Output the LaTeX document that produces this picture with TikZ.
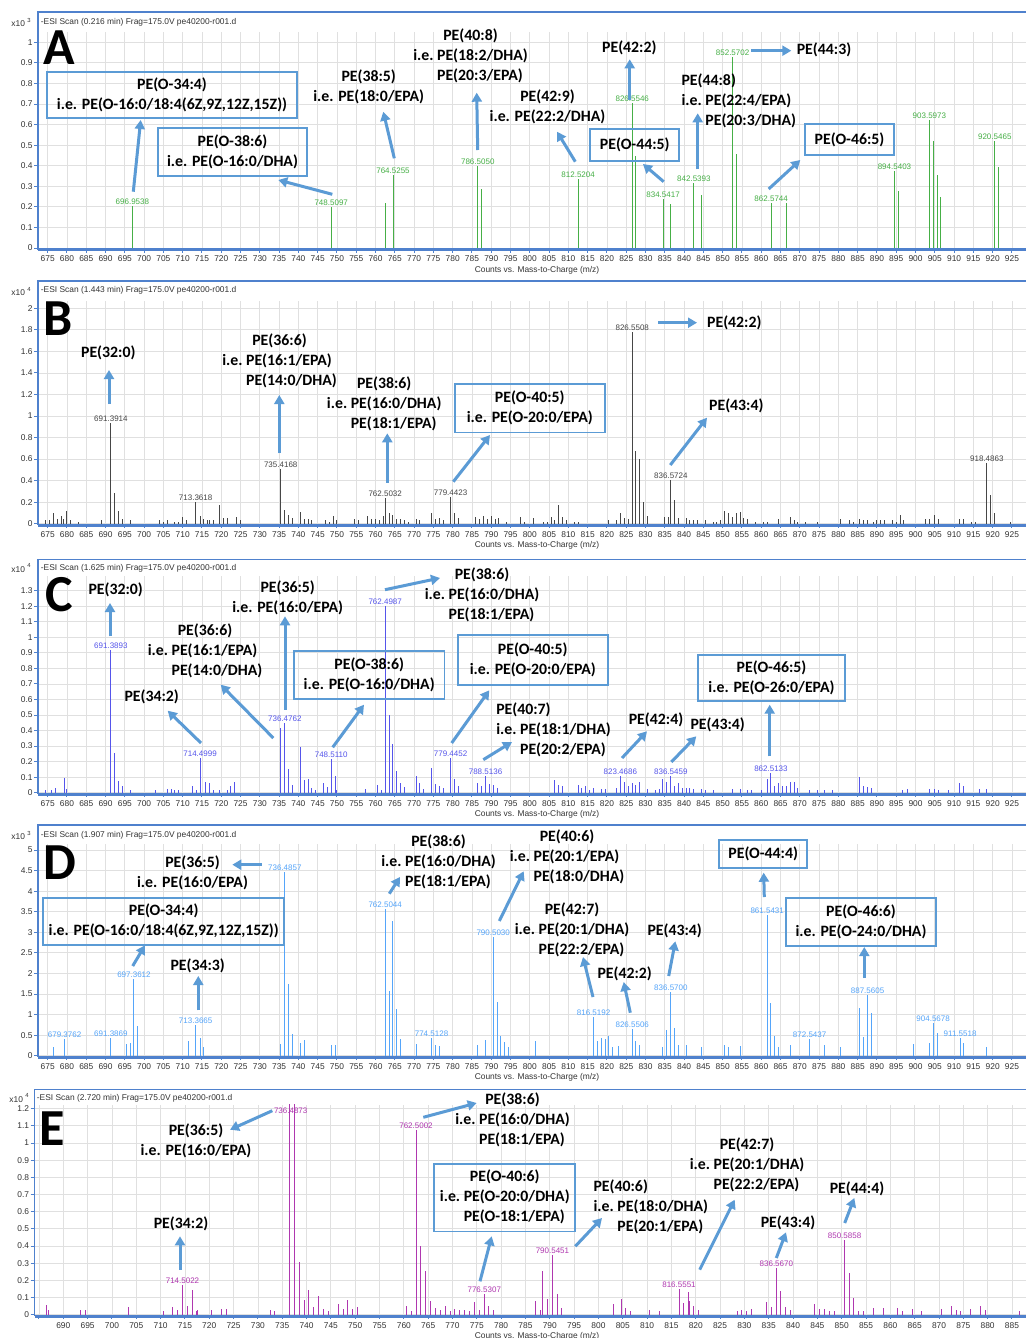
\documentclass[tikz,border=0pt]{standalone}
\usepackage{fontspec}
\setmainfont{Carlito}
\newfontfamily\tickfont{Liberation Sans}
\usetikzlibrary{arrows.meta}
\definecolor{callblue}{RGB}{91,155,213}
\definecolor{framebl}{RGB}{79,129,205}
\definecolor{gridgray}{RGB}{224,224,224}
\definecolor{peakA}{RGB}{70,175,70}
\definecolor{peakB}{RGB}{70,70,70}
\definecolor{peakC}{RGB}{85,85,235}
\definecolor{peakD}{RGB}{85,165,250}
\definecolor{peakE}{RGB}{175,55,175}

% three-line species labels: name, then "i.e." options
\newcommand{\pethree}[3]{\begin{tabular}{@{}r@{\ }l@{}}\multicolumn{2}{@{}c@{}}{#1}\\ i.e. & #2\\ & #3\end{tabular}}
\newcommand{\pethreel}[3]{\begin{tabular}{@{}r@{\ }l@{}}\multicolumn{2}{@{}l@{}}{#1}\\ i.e. & #2\\ & #3\end{tabular}}

\tikzset{
  gridline/.style={draw=gridgray, line width=0.4pt},
  frameline/.style={draw=framebl, line width=0.8pt},
  axisline/.style={draw=framebl, line width=1.3pt},
  tick/.style={font=\tickfont\fontsize{4.2}{5}\selectfont, inner sep=0pt, text=black!80},
  peakline/.style={line width=0.5pt},
  peaklab/.style={font=\tickfont\fontsize{4}{5}\selectfont, inner sep=0pt, anchor=south},
  pelabel/.style={font=\fontsize{7.9}{10}\selectfont\bfseries, inner sep=0pt, align=center},
  pebox/.style={pelabel, draw=callblue, line width=0.9pt},
  callout/.style={draw=callblue, line width=1.5pt, -{Triangle[length=4.5pt,width=5pt]}},
  panelletter/.style={font=\fontsize{26}{26}\selectfont\bfseries, inner sep=0pt},
}

% axes of one spectrum; uses \xa \ma \sx \yb \sy
\newcommand{\drawaxes}[7]{%
  \foreach \m in {#5} \draw[gridline] ({\xa+(\m-\ma)*\sx},\yb) -- ({\xa+(\m-\ma)*\sx},#4);
  \foreach \v [count=\i] in {#7} {
    \draw[gridline] (#2,{\yb-\v*\sy}) -- (1026,{\yb-\v*\sy});
    \draw[frameline,line width=0.5pt] ({#2-4},{\yb-\v*\sy}) -- (#2,{\yb-\v*\sy});
    \node[tick,anchor=east] (#1y\i) at ({#2-5},{\yb-\v*\sy}) {\v};
  }
  \foreach \m in {#5} \draw[frameline,line width=0.5pt] ({\xa+(\m-\ma)*\sx},{\yb+1.5}) -- ++(0,3);
  \foreach \m in {#6} \node[tick] (#1x\m) at ({\xa+(\m-\ma)*\sx},{\yb+11}) {\m};
  \draw[frameline] (1026,#3) -- (#2,#3) -- (#2,{\yb+1.5});
  \draw[axisline] (#2,{\yb+1.5}) -- (1026,{\yb+1.5});
}
\newcommand{\peaklist}[2]{\foreach \m/\h in {#2} \draw[peakline,#1] ({\xa+(\m-\ma)*\sx},\yb) -- ++(0,{-\h*\sy});}
\newcommand{\labpeaks}[3]{\foreach \m/\h [count=\i] in {#3} {
    \draw[peakline,#2] ({\xa+(\m-\ma)*\sx},\yb) -- ++(0,{-\h*\sy});
    \node[peaklab,text=#2] (#1\i) at ({\xa+(\m-\ma)*\sx},{\yb-\h*\sy-1}) {\m};}}

\begin{document}
\begin{tikzpicture}[x=0.5pt,y=-0.5pt]
\fill[white] (0,0) rectangle (1025,1338);
\useasboundingbox (0,0) rectangle (1025,1338);

% ---------------- A
\def\xa{47.7}\def\ma{675}\def\sx{3.857}\def\yb{248}\def\sy{205.7}
\drawaxes{A}{38}{12.3}{31.7}{675,680,...,925}{675,680,...,925}{0,0.1,0.2,0.3,0.4,0.5,0.6,0.7,0.8,0.9,1}
\node[tick,anchor=west] (expA) at (11,22.5) {x10 \textsuperscript{3}};
\node[tick,anchor=west] (titleA) at (40.5,22.5) {-ESI Scan (0.216 min) Frag=175.0V pe40200-r001.d};
\node[tick] (countsA) at (537,{\yb+22}) {Counts vs. Mass-to-Charge (m/z)};
\node[panelletter] (letA) at (59.5,47.5) {A};
\peaklist{peakA}{762.5/0.217, 787.5/0.287, 827.5/0.447, 836.5/0.214, 844.5/0.258, 853.5/0.457, 866.5/0.217, 895.5/0.279, 904.6/0.52, 905.6/0.356, 906.6/0.249, 921.5/0.395}
\labpeaks{pA}{peakA}{696.9538/0.204, 748.5097/0.20, 764.5255/0.355, 786.5050/0.40, 812.5204/0.334, 826.5546/0.703, 834.5417/0.237, 842.5393/0.314, 852.5702/0.927, 862.5744/0.22, 894.5403/0.376, 903.5973/0.622, 920.5465/0.519}

\node[pebox,minimum width=125.3pt,minimum height=23pt] (aO344) at (172,95.3) {PE(O-34:4)\\i.e. PE(O-16:0/18:4(6Z,9Z,12Z,15Z))};
\coordinate (a1s) at (133.3,191.7); \coordinate (a1e) at (140.7,120); \draw[callout] (a1s) -- (a1e);
\node[pebox,minimum width=74.8pt,minimum height=24pt] (aO386) at (232.5,151.7) {PE(O-38:6)\\i.e. PE(O-16:0/DHA)};
\coordinate (a2s) at (332.3,194.3); \coordinate (a2e) at (278.3,180); \draw[callout] (a2s) -- (a2e);
\node[pelabel] (a385) at (368.7,86.7) {PE(38:5)\\i.e. PE(18:0/EPA)};
\coordinate (a3s) at (394.3,158.3); \coordinate (a3e) at (383.3,111.7); \draw[callout] (a3s) -- (a3e);
\node[pelabel] (a408) at (470.5,56.7) {\pethree{PE(40:8)}{PE(18:2/DHA)}{PE(20:3/EPA)}};
\coordinate (a4s) at (477.7,150); \coordinate (a4e) at (476.7,92.7); \draw[callout] (a4s) -- (a4e);
\node[pelabel] (a429) at (547.5,106.7) {PE(42:9)\\i.e. PE(22:2/DHA)};
\coordinate (a5s) at (575.3,161.7); \coordinate (a5e) at (557,131.7); \draw[callout] (a5s) -- (a5e);
\node[pelabel] (a422) at (629.3,47.7) {PE(42:2)};
\coordinate (a6s) at (629.7,100); \coordinate (a6e) at (629.7,59.3); \draw[callout] (a6s) -- (a6e);
\node[pebox,minimum width=44.5pt,minimum height=15.7pt] (aO445) at (634.8,145) {PE(O-44:5)};
\coordinate (a7s) at (663.7,181.7); \coordinate (a7e) at (643,164); \draw[callout] (a7s) -- (a7e);
\node[pelabel] (a448) at (738.8,101.7) {\pethreel{PE(44:8)}{PE(22:4/EPA)}{PE(20:3/DHA)}};
\coordinate (a8s) at (697.7,169.3); \coordinate (a8e) at (697.7,113.3); \draw[callout] (a8s) -- (a8e);
\node[pelabel] (a443) at (824,50) {PE(44:3)};
\coordinate (a9s) at (751.3,50.7); \coordinate (a9e) at (791.3,50.7); \draw[callout] (a9s) -- (a9e);
\node[pebox,minimum width=44.8pt,minimum height=15.5pt] (aO465) at (849.5,139.5) {PE(O-46:5)};
\coordinate (a10s) at (768.7,189); \coordinate (a10e) at (800.3,160); \draw[callout] (a10s) -- (a10e);

% ---------------- B
\def\xa{47.7}\def\ma{675}\def\sx{3.857}\def\yb{523.7}\def\sy{107.7}
\drawaxes{B}{38}{281}{300.7}{675,680,...,925}{675,680,...,925}{0,0.2,0.4,0.6,0.8,1,1.2,1.4,1.6,1.8,2}
\node[tick,anchor=west] (expB) at (11,291.2) {x10 \textsuperscript{4}};
\node[tick,anchor=west] (titleB) at (40.5,290.7) {-ESI Scan (1.443 min) Frag=175.0V pe40200-r001.d};
\node[tick] (countsB) at (537,{\yb+22}) {Counts vs. Mass-to-Charge (m/z)};
\node[panelletter] (letB) at (58,318.7) {B};
\peaklist{peakB}{692.4/0.282, 693.4/0.118, 694.4/0.04, 736.4/0.127, 737.4/0.08, 763.5/0.1, 764.5/0.08, 780.4/0.1, 827.5/0.678, 828.5/0.598, 829.5/0.204, 830.5/0.07, 837.6/0.22, 919.5/0.266, 920.5/0.1,
 674.5/0.03, 675.5/0.03, 676.5/0.1, 677.5/0.04, 678.5/0.07, 679/0.04, 680/0.12, 681/0.03, 683/0.02, 689/0.03, 696.5/0.03, 704/0.03, 705/0.02, 706/0.03, 708/0.02, 709/0.02, 710/0.06, 711/0.03, 714.5/0.07, 715.5/0.04, 716.5/0.03, 717/0.03, 718/0.03, 719.5/0.17, 720.5/0.05, 721.5/0.05, 724/0.06, 725/0.03, 738.5/0.05, 740.5/0.11, 741.5/0.04, 742.5/0.04, 743.5/0.03, 747/0.03, 748/0.02, 749/0.07, 750/0.03, 754.5/0.04, 755.5/0.03, 758/0.07, 759/0.04, 760/0.04, 761/0.03, 762/0.07, 765.5/0.04, 766.5/0.04, 767.5/0.03, 768.5/0.02, 770.5/0.04, 771.5/0.03, 774.5/0.1, 775.5/0.04, 776.5/0.05, 777.5/0.03, 781.5/0.05, 786/0.06, 787/0.04, 788/0.07, 789/0.04, 790/0.07, 791/0.04, 792/0.05, 794/0.02,
 797.5/0.06, 798.5/0.02, 801/0.05, 803.5/0.02, 804.5/0.02, 805.5/0.06, 806.5/0.03, 807.5/0.17, 808.5/0.06, 809.5/0.03, 811.5/0.02, 812.5/0.02, 820.5/0.03, 822.5/0.03, 823.5/0.1, 824.5/0.05, 825.5/0.04, 835/0.06, 836/0.06, 838.5/0.05, 840.5/0.05, 841.5/0.03, 842.5/0.03, 843.5/0.03, 845.5/0.03, 847.5/0.02, 848.5/0.02, 849.5/0.03, 850.5/0.12, 851.5/0.1, 852.5/0.06, 853.5/0.1, 854.5/0.11, 855.5/0.05, 856.5/0.04, 858.5/0.02, 860.5/0.02, 861.5/0.02, 864.5/0.04, 867.5/0.06, 868.5/0.03, 869.5/0.02, 871.5/0.02, 874.5/0.02, 880.5/0.04, 883/0.03, 884/0.02, 885.5/0.04, 886.5/0.03, 887.5/0.03, 889/0.02, 890/0.03, 891/0.03, 892/0.03, 894/0.03, 895/0.02, 896/0.08, 897/0.03, 902.5/0.04, 903.5/0.04, 905/0.08, 906/0.04, 911.5/0.04, 912.5/0.04, 914.5/0.02, 915.5/0.02, 924.5/0.02}
\labpeaks{pB}{peakB}{691.3914/0.938, 713.3618/0.204, 735.4168/0.505, 762.5032/0.235, 779.4423/0.25, 826.5508/1.777, 836.5724/0.406, 918.4863/0.56}

\node[pelabel] (b320) at (108.3,353.3) {PE(32:0)};
\coordinate (b1s) at (109,404); \coordinate (b1e) at (109,370); \draw[callout] (b1s) -- (b1e);
\node[pelabel] (b366) at (279.5,361.7) {\pethree{PE(36:6)}{PE(16:1/EPA)}{PE(14:0/DHA)}};
\coordinate (b2s) at (279.3,453.3); \coordinate (b2e) at (279.3,395); \draw[callout] (b2s) -- (b2e);
\node[pelabel] (b386) at (384.2,404) {\pethree{PE(38:6)}{PE(16:0/DHA)}{PE(18:1/EPA)}};
\coordinate (b3s) at (387.3,482.7); \coordinate (b3e) at (387.3,433.3); \draw[callout] (b3s) -- (b3e);
\node[pebox,minimum width=74.9pt,minimum height=24.2pt] (bO405) at (529.8,408.2) {PE(O-40:5)\\i.e. PE(O-20:0/EPA)};
\coordinate (b4s) at (453.3,481.7); \coordinate (b4e) at (490,435); \draw[callout] (b4s) -- (b4e);
\node[pelabel] (b422) at (734.3,323.3) {PE(42:2)};
\coordinate (b5s) at (658,322.7); \coordinate (b5e) at (697,322.7); \draw[callout] (b5s) -- (b5e);
\node[pelabel] (b434) at (736.3,406) {PE(43:4)};
\coordinate (b6s) at (670.3,465); \coordinate (b6e) at (707,417.7); \draw[callout] (b6s) -- (b6e);

% ---------------- C
\def\xa{47.7}\def\ma{675}\def\sx{3.857}\def\yb{792.7}\def\sy{155.4}
\drawaxes{C}{38}{559.5}{576.3}{675,680,...,925}{675,680,...,925}{0,0.1,0.2,0.3,0.4,0.5,0.6,0.7,0.8,0.9,1,1.1,1.2,1.3}
\node[tick,anchor=west] (expC) at (11,568) {x10 \textsuperscript{4}};
\node[tick,anchor=west] (titleC) at (40.5,568) {-ESI Scan (1.625 min) Frag=175.0V pe40200-r001.d};
\node[tick] (countsC) at (537,{\yb+22}) {Counts vs. Mass-to-Charge (m/z)};
\node[panelletter] (letC) at (59.7,594.5) {C};
\peaklist{peakC}{674.5/0.02, 676/0.015, 677/0.03, 679.3/0.095, 680/0.025, 692.4/0.255, 693.4/0.073, 694.4/0.045, 696.4/0.02, 703/0.02, 706/0.025, 707/0.025, 708/0.02, 709/0.015, 712.5/0.04, 713.5/0.02, 716/0.07, 717/0.065, 718/0.02, 719.5/0.02, 721.5/0.02, 722.5/0.04, 723.5/0.07, 735.4/0.416, 737.5/0.155, 738.5/0.05, 740.5/0.294, 741.5/0.08, 742.5/0.09, 743.5/0.03, 744.5/0.02, 746.5/0.06, 747.5/0.035, 749.5/0.108, 750/0.02, 757.5/0.025, 760.5/0.05, 761.5/0.02, 763.5/0.502, 764.5/0.315, 765.5/0.138, 766.5/0.06, 767.5/0.035, 770.5/0.11, 771.5/0.065, 772.5/0.025, 774.5/0.16, 775.5/0.055, 776.5/0.045, 777.5/0.03, 780.5/0.085, 781.5/0.04, 786.5/0.06, 787.5/0.04, 789.5/0.055, 790.5/0.05, 791.5/0.03,
 806.5/0.08, 807.5/0.05, 808.5/0.045, 812.5/0.05, 813.5/0.03, 814.5/0.04, 815.5/0.02, 816.5/0.03, 818.5/0.025, 819.5/0.025, 822.5/0.03, 824.5/0.07, 825.5/0.04, 826.5/0.06, 827.5/0.05, 828.5/0.07, 830.5/0.025, 832.5/0.02, 833.5/0.025, 834.5/0.085, 835.5/0.07, 837.5/0.045, 838.5/0.06, 839.5/0.03, 840.5/0.03, 841.5/0.03, 842.5/0.025, 844.5/0.025, 845.5/0.02, 847.5/0.02, 852.5/0.025, 854.5/0.025, 856.5/0.02, 857.5/0.02, 860/0.02, 861.5/0.085, 863.5/0.04, 864.5/0.065, 865.5/0.04, 866.5/0.045, 867.5/0.07, 868.5/0.07, 869.5/0.03, 872.5/0.02, 874.5/0.02, 876.5/0.02, 878.5/0.02, 885.5/0.1, 886.5/0.04, 887.5/0.035, 888.5/0.03, 896.5/0.02, 898/0.025, 903.5/0.025, 905/0.025, 906/0.02, 908.5/0.02, 911.5/0.06, 912.5/0.045, 916.5/0.025, 918.5/0.025}
\labpeaks{pC}{peakC}{691.3893/0.92, 714.4999/0.223, 736.4762/0.449, 748.5110/0.215, 762.4987/1.2, 779.4452/0.223, 788.5136/0.108, 823.4686/0.11, 836.5459/0.11, 862.5133/0.126}

\node[pelabel] (c320) at (115.7,589.7) {PE(32:0)};
\coordinate (c1s) at (110,636.3); \coordinate (c1e) at (110,603); \draw[callout] (c1s) -- (c1e);
\node[pelabel] (c365) at (287.7,597.7) {PE(36:5)\\i.e. PE(16:0/EPA)};
\coordinate (c2s) at (285,709.7); \coordinate (c2e) at (285,616.3); \draw[callout] (c2s) -- (c2e);
\node[pelabel] (c366) at (205,651.7) {\pethree{PE(36:6)}{PE(16:1/EPA)}{PE(14:0/DHA)}};
\coordinate (c3s) at (273.3,738); \coordinate (c3e) at (220.7,684.7); \draw[callout] (c3s) -- (c3e);
\node[pelabel] (c342) at (151.7,697.3) {PE(34:2)};
\coordinate (c4s) at (201,743); \coordinate (c4e) at (167.7,710.7); \draw[callout] (c4s) -- (c4e);
\node[pebox,minimum width=75.2pt,minimum height=23.9pt] (cO386) at (369.2,675.2) {PE(O-38:6)\\i.e. PE(O-16:0/DHA)};
\coordinate (c5s) at (332.7,747.3); \coordinate (c5e) at (364,704.7); \draw[callout] (c5s) -- (c5e);
\node[pelabel] (c386) at (482,595.5) {\pethree{PE(38:6)}{PE(16:0/DHA)}{PE(18:1/EPA)}};
\coordinate (c6s) at (385,589.7); \coordinate (c6e) at (440,578); \draw[callout] (c6s) -- (c6e);
\node[pebox,minimum width=75.2pt,minimum height=24.7pt] (cO405) at (532.8,660) {PE(O-40:5)\\i.e. PE(O-20:0/EPA)};
\coordinate (c7s) at (451.7,743); \coordinate (c7e) at (489.3,690.3); \draw[callout] (c7s) -- (c7e);
\node[pelabel] (c407) at (553.5,730.7) {\pethreel{PE(40:7)}{PE(18:1/DHA)}{PE(20:2/EPA)}};
\coordinate (c8s) at (483.3,759.7); \coordinate (c8e) at (512,742); \draw[callout] (c8s) -- (c8e);
\node[pelabel] (c424) at (656,720.3) {PE(42:4)};
\coordinate (c9s) at (622,758); \coordinate (c9e) at (647,731.3); \draw[callout] (c9s) -- (c9e);
\node[pelabel] (c434) at (717.7,724.7) {PE(43:4)};
\coordinate (c10s) at (671.3,762); \coordinate (c10e) at (696.3,736.3); \draw[callout] (c10s) -- (c10e);
\node[pebox,minimum width=73.8pt,minimum height=23pt] (cO465) at (771.5,677.7) {PE(O-46:5)\\i.e. PE(O-26:0/EPA)};
\coordinate (c11s) at (769.7,756.3); \coordinate (c11e) at (769.7,704.7); \draw[callout] (c11s) -- (c11e);

% ---------------- D
\def\xa{47.7}\def\ma{675}\def\sx{3.857}\def\yb{1055.7}\def\sy{41.14}
\drawaxes{D}{38}{824.7}{843.7}{675,680,...,925}{675,680,...,925}{0,0.5,1,1.5,2,2.5,3,3.5,4,4.5,5}
\node[tick,anchor=west] (expD) at (11,835.3) {x10 \textsuperscript{3}};
\node[tick,anchor=west] (titleD) at (40.5,835.3) {-ESI Scan (1.907 min) Frag=175.0V pe40200-r001.d};
\node[tick] (countsD) at (537,{\yb+22}) {Counts vs. Mass-to-Charge (m/z)};
\node[panelletter] (letD) at (60,862.8) {D};
\peaklist{peakD}{676.5/0.21, 695.4/0.28, 696.4/0.3, 698.4/0.72, 711.4/0.35, 714.5/0.42, 715.5/0.22, 735.4/0.28, 737.5/1.75, 738.5/0.52, 740.5/0.3, 741.5/0.37, 748.5/0.26, 749.5/0.26, 763.5/1.57, 764.5/3.27, 765.5/1.14, 766.5/0.4, 770.5/0.28, 775.5/0.26, 776.5/0.24, 786.5/0.27, 788.5/0.38, 791.5/1.3, 792.5/0.47, 793.5/0.34, 794.5/0.2, 801.4/0.35, 817.5/0.36, 818.5/0.43, 819.5/0.4, 820.5/0.47, 821.5/0.22, 823/0.24, 827.5/0.35, 828.5/0.27, 834.5/0.22, 835.5/0.62, 837.6/0.68, 838.6/0.27, 840.5/0.27, 844.5/0.22, 850.5/0.27, 851.5/0.22, 854.5/0.24, 862.5/1.29, 863.5/0.48, 864.5/0.2, 867.5/0.26, 876.5/0.27, 880.5/0.22, 885.5/1.17, 886.5/0.45, 888.6/1.03, 899.5/0.28, 903.5/0.3, 905.6/0.55, 912.5/0.3, 918.5/0.22}
\labpeaks{pD}{peakD}{679.3762/0.4, 691.3869/0.44, 697.3612/1.86, 713.3665/0.74, 736.4857/4.47, 762.5044/3.56, 774.5128/0.44, 790.5030/2.89, 816.5192/0.94, 826.5506/0.66, 836.5700/1.55, 861.5431/3.43, 872.5437/0.41, 887.5605/1.48, 904.5678/0.79, 911.5518/0.42}

\node[pelabel] (d365) at (192.5,872.8) {PE(36:5)\\i.e. PE(16:0/EPA)};
\coordinate (d1s) at (261.7,864.7); \coordinate (d1e) at (232.3,864.7); \draw[callout] (d1s) -- (d1e);
\node[pebox,minimum width=120.4pt,minimum height=23.4pt] (dO344) at (163.7,921.3) {PE(O-34:4)\\i.e. PE(O-16:0/18:4(6Z,9Z,12Z,15Z))};
\coordinate (d2s) at (132.7,966); \coordinate (d2e) at (145,945.3); \draw[callout] (d2s) -- (d2e);
\node[pelabel] (d343) at (197.7,966) {PE(34:3)};
\coordinate (d3s) at (198.3,1010.3); \coordinate (d3e) at (198.3,976); \draw[callout] (d3s) -- (d3e);
\node[pelabel] (d386) at (438.5,862.7) {\pethree{PE(38:6)}{PE(16:0/DHA)}{PE(18:1/EPA)}};
\coordinate (d4s) at (389.3,893.7); \coordinate (d4e) at (400,877); \draw[callout] (d4s) -- (d4e);
\node[pelabel] (d406) at (567,857) {\pethree{PE(40:6)}{PE(20:1/EPA)}{PE(18:0/DHA)}};
\coordinate (d5s) at (499.3,921); \coordinate (d5e) at (523.7,871.3); \draw[callout] (d5s) -- (d5e);
\node[pelabel] (d427) at (572,930.3) {\pethree{PE(42:7)}{PE(20:1/DHA)}{PE(22:2/EPA)}};
\coordinate (d6s) at (593,997); \coordinate (d6e) at (583,957); \draw[callout] (d6s) -- (d6e);
\node[pelabel] (d422) at (624.7,974.3) {PE(42:2)};
\coordinate (d7s) at (630.3,1012.7); \coordinate (d7e) at (623.7,982); \draw[callout] (d7s) -- (d7e);
\node[pelabel] (d434) at (674.7,931.3) {PE(43:4)};
\coordinate (d8s) at (668.7,976); \coordinate (d8e) at (675.3,941.3); \draw[callout] (d8s) -- (d8e);
\node[pebox,minimum width=43.9pt,minimum height=13.9pt] (dO444) at (763.2,854.2) {PE(O-44:4)};
\coordinate (d9s) at (764.3,897); \coordinate (d9e) at (763.7,872.7); \draw[callout] (d9s) -- (d9e);
\node[pebox,minimum width=75pt,minimum height=24pt] (dO466) at (861,922) {PE(O-46:6)\\i.e. PE(O-24:0/DHA)};
\coordinate (d10s) at (864.3,978); \coordinate (d10e) at (864.3,947); \draw[callout] (d10s) -- (d10e);

% ---------------- E
\def\xa{63.3}\def\ma{690}\def\sx{4.865}\def\yb{1314.7}\def\sy{171.7}
\drawaxes{E}{34.5}{1089.5}{1104.7}{685,690,...,885}{690,695,...,885}{0,0.1,0.2,0.3,0.4,0.5,0.6,0.7,0.8,0.9,1,1.1,1.2}
\node[tick,anchor=west] (expE) at (9,1098) {x10 \textsuperscript{4}};
\node[tick,anchor=west] (titleE) at (36.5,1098) {-ESI Scan (2.720 min) Frag=175.0V pe40200-r001.d};
\node[tick] (countsE) at (537,{\yb+22}) {Counts vs. Mass-to-Charge (m/z)};
\node[panelletter] (letE) at (52,1129) {E};
\peaklist{peakE}{686.5/0.058, 687/0.025, 693.5/0.028, 694.5/0.025, 703.5/0.045, 710.5/0.022, 712.5/0.045, 713.5/0.028, 715.5/0.05, 716.5/0.145, 717.3/0.02, 717.6/0.03, 720.5/0.025, 722.5/0.032, 723.5/0.032, 732.5/0.03, 733.5/0.02, 736.4873/1.23, 737.5/1.23, 738.5/0.305, 739.5/0.085, 740.5/0.145, 741.5/0.045, 742.5/0.11, 743.5/0.032, 744.5/0.022, 746.5/0.06, 747.5/0.032, 748.5/0.085, 749.5/0.035, 750.5/0.045, 760.5/0.05, 761.5/0.022, 763.5/0.402, 764.5/0.256, 765.5/0.078, 766.5/0.042, 767.5/0.03, 768.5/0.052, 769.5/0.022, 770.5/0.035, 771.5/0.025, 772.5/0.03, 773.5/0.022, 774.5/0.072, 775.5/0.03, 777.5/0.05, 778.5/0.025,
 787/0.078, 788/0.03, 788.5/0.255, 789.5/0.09, 791.5/0.12, 792.5/0.04, 803/0.06, 804.7/0.09, 805.5/0.04, 806.5/0.022, 810.5/0.025, 812.5/0.022, 817.5/0.07, 818.5/0.135, 818.8/0.08, 819.5/0.05, 820.5/0.025, 828.5/0.022, 829.5/0.025, 830.5/0.022, 831.5/0.035, 834.5/0.075, 835.5/0.045, 837.5/0.137, 838.5/0.045, 839.5/0.025, 844.5/0.065, 845.5/0.035, 846.5/0.032, 847.5/0.022, 848.5/0.022, 851.5/0.245, 852.5/0.1, 853.5/0.022, 854.5/0.022, 856.5/0.04, 858.5/0.042, 861.5/0.042, 862.5/0.022, 864.5/0.035, 866.5/0.02, 870.5/0.035, 872.5/0.052, 873.5/0.03, 874.5/0.02, 876.5/0.035, 878.5/0.048, 879.5/0.03, 886.5/0.02}
\labpeaks{pE}{peakE}{714.5022/0.175, 762.5002/1.077, 776.5307/0.12, 790.5451/0.346, 816.5551/0.15, 836.5670/0.272, 850.5858/0.437}
\node[peaklab,text=peakE] (pE0) at (290.7,1113.5) {736.4873};

\node[pelabel] (e365) at (196,1140.5) {PE(36:5)\\i.e. PE(16:0/EPA)};
\coordinate (e1s) at (272.3,1110.7); \coordinate (e1e) at (230,1129.7); \draw[callout] (e1s) -- (e1e);
\node[pelabel] (e342) at (181,1224) {PE(34:2)};
\coordinate (e2s) at (180,1269.7); \coordinate (e2e) at (180,1236.3); \draw[callout] (e2s) -- (e2e);
\node[pelabel] (e386) at (512.5,1120.7) {\pethree{PE(38:6)}{PE(16:0/DHA)}{PE(18:1/EPA)}};
\coordinate (e3s) at (423.3,1117.3); \coordinate (e3e) at (476.7,1103); \draw[callout] (e3s) -- (e3e);
\node[pebox,minimum width=70.5pt,minimum height=33.7pt] (eO406) at (504.8,1197.7) {\pethree{PE(O-40:6)}{PE(O-20:0/DHA)}{PE(O-18:1/EPA)}};
\coordinate (e4s) at (480,1281.3); \coordinate (e4e) at (491.7,1236.3); \draw[callout] (e4s) -- (e4e);
\node[pelabel] (e406) at (650.8,1207.3) {\pethreel{PE(40:6)}{PE(18:0/DHA)}{PE(20:1/EPA)}};
\coordinate (e5s) at (575.3,1246.3); \coordinate (e5e) at (602,1218); \draw[callout] (e5s) -- (e5e);
\node[pelabel] (e427) at (747,1165.3) {\pethree{PE(42:7)}{PE(20:1/DHA)}{PE(22:2/EPA)}};
\coordinate (e6s) at (699.7,1269.7); \coordinate (e6e) at (734.7,1199.7); \draw[callout] (e6s) -- (e6e);
\node[pelabel] (e434) at (788,1223) {PE(43:4)};
\coordinate (e7s) at (776.3,1258); \coordinate (e7e) at (786,1232.3); \draw[callout] (e7s) -- (e7e);
\node[pelabel] (e444) at (857,1189) {PE(44:4)};
\coordinate (e8s) at (844.7,1223); \coordinate (e8e) at (854.3,1198); \draw[callout] (e8s) -- (e8e);
\end{tikzpicture}
\end{document}
